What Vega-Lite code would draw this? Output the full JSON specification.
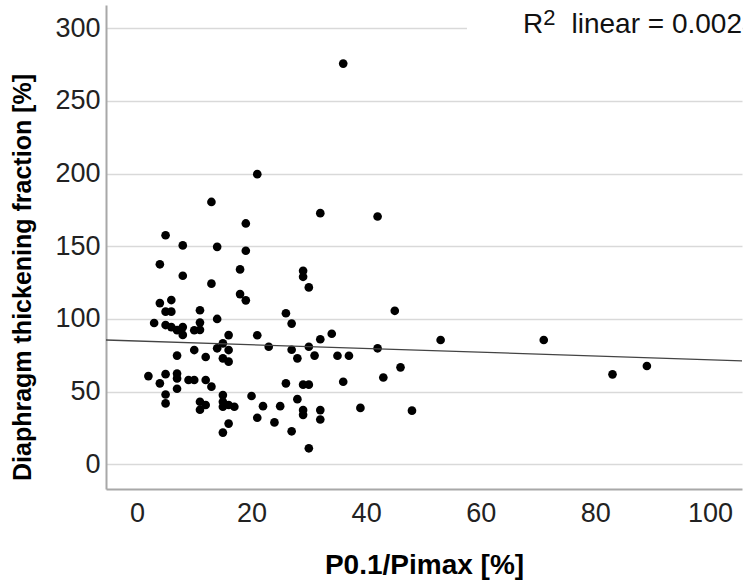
{
  "$schema": "https://vega.github.io/schema/vega-lite/v6.json",
  "width": 636,
  "height": 484,
  "autosize": {"type": "none"},
  "padding": {"left": 106, "top": 5, "right": 8, "bottom": 99},
  "background": "white",
  "config": {"view": {"stroke": null}, "font": "Liberation Sans"},
  "datasets": {
    "points": [
      {"p": 36, "d": 275.7}, {"p": 21, "d": 199.6}, {"p": 13, "d": 180.5}, {"p": 32, "d": 172.8},
      {"p": 42, "d": 170.5}, {"p": 19, "d": 165.7}, {"p": 5, "d": 157.6}, {"p": 8, "d": 150.6},
      {"p": 14, "d": 149.6}, {"p": 19, "d": 146.9}, {"p": 4, "d": 137.6}, {"p": 18, "d": 134.1},
      {"p": 29, "d": 133.1}, {"p": 8, "d": 129.7}, {"p": 29, "d": 129.0}, {"p": 13, "d": 124.3},
      {"p": 30, "d": 121.7}, {"p": 18, "d": 117.1}, {"p": 19, "d": 112.8}, {"p": 6, "d": 113.0},
      {"p": 4, "d": 110.9}, {"p": 45, "d": 105.6}, {"p": 11, "d": 106.0}, {"p": 5, "d": 105.0},
      {"p": 6, "d": 105.0}, {"p": 26, "d": 103.9}, {"p": 14, "d": 100.0}, {"p": 3, "d": 97.2},
      {"p": 11, "d": 97.5}, {"p": 27, "d": 96.8}, {"p": 5, "d": 95.8}, {"p": 6, "d": 94.4},
      {"p": 8, "d": 94.4}, {"p": 7, "d": 92.3}, {"p": 10, "d": 92.2}, {"p": 11, "d": 92.5},
      {"p": 8, "d": 89.0}, {"p": 16, "d": 88.9}, {"p": 21, "d": 88.8}, {"p": 34, "d": 89.8},
      {"p": 32, "d": 86.0}, {"p": 53, "d": 85.5}, {"p": 71, "d": 85.5}, {"p": 15, "d": 83.2},
      {"p": 23, "d": 80.9}, {"p": 30, "d": 80.9}, {"p": 14, "d": 79.8}, {"p": 42, "d": 79.8},
      {"p": 10, "d": 78.6}, {"p": 16, "d": 78.6}, {"p": 27, "d": 78.8}, {"p": 7, "d": 74.8},
      {"p": 12, "d": 73.8}, {"p": 31, "d": 74.8}, {"p": 35, "d": 74.7}, {"p": 37, "d": 74.7},
      {"p": 15, "d": 72.9}, {"p": 28, "d": 72.9}, {"p": 16, "d": 70.6}, {"p": 46, "d": 66.7},
      {"p": 89, "d": 67.6}, {"p": 5, "d": 62.0}, {"p": 7, "d": 62.4}, {"p": 83, "d": 61.9},
      {"p": 2, "d": 60.7}, {"p": 43, "d": 59.7}, {"p": 7, "d": 59.1}, {"p": 9, "d": 58.0},
      {"p": 10, "d": 58.0}, {"p": 12, "d": 58.0}, {"p": 36, "d": 56.8}, {"p": 4, "d": 55.7},
      {"p": 26, "d": 55.7}, {"p": 29, "d": 54.8}, {"p": 30, "d": 54.8}, {"p": 13, "d": 53.4},
      {"p": 7, "d": 52.0}, {"p": 5, "d": 48.0}, {"p": 15, "d": 47.6}, {"p": 20, "d": 47.0},
      {"p": 28, "d": 44.8}, {"p": 11, "d": 43.0}, {"p": 15, "d": 43.0}, {"p": 5, "d": 41.9},
      {"p": 12, "d": 40.8}, {"p": 16, "d": 40.8}, {"p": 15, "d": 39.6}, {"p": 17, "d": 39.6},
      {"p": 22, "d": 40.0}, {"p": 25, "d": 40.0}, {"p": 39, "d": 38.8}, {"p": 11, "d": 37.5},
      {"p": 29, "d": 37.3}, {"p": 32, "d": 37.3}, {"p": 48, "d": 36.9}, {"p": 29, "d": 34.0},
      {"p": 21, "d": 32.0}, {"p": 32, "d": 30.8}, {"p": 24, "d": 28.8}, {"p": 16, "d": 28.0},
      {"p": 27, "d": 22.7}, {"p": 15, "d": 21.8}, {"p": 30, "d": 11.0}
    ],
    "fit": [{"p": -5.4, "d": 85.5}, {"p": 105.6, "d": 71.2}]
  },
  "layer": [
    {
      "data": {"name": "points"},
      "mark": {"type": "circle", "size": 75, "color": "#000000", "opacity": 1},
      "encoding": {
        "x": {
          "field": "p", "type": "quantitative",
          "scale": {"domain": [-5.4, 105.6], "nice": false, "zero": false},
          "axis": {
            "title": "P0.1/Pimax [%]",
            "values": [0, 20, 40, 60, 80, 100],
            "grid": false, "ticks": false, "tickSize": 0,
            "domainColor": "#a8a8a8", "domainWidth": 2,
            "labelFontSize": 27, "labelColor": "#222222", "labelPadding": 11, "labelFlush": false,
            "titleFontSize": 28, "titleFontWeight": "bold", "titleColor": "#000000",
            "titleY": 84, "titleBaseline": "alphabetic"
          }
        },
        "y": {
          "field": "d", "type": "quantitative",
          "scale": {"domain": [-17, 316], "nice": false, "zero": false},
          "axis": {
            "title": "Diaphragm thickening fraction [%]",
            "values": [0, 50, 100, 150, 200, 250, 300],
            "grid": true, "gridColor": "#d9d9d9", "gridWidth": 1.5,
            "ticks": false, "tickSize": 0,
            "domainColor": "#a8a8a8", "domainWidth": 2,
            "labelFontSize": 27, "labelColor": "#222222", "labelPadding": 6, "labelFlush": false,
            "titleFontSize": 25, "titleFontWeight": "bold", "titleColor": "#000000",
            "titleX": -76, "titleY": 272, "titleAngle": 270, "titleAlign": "center", "titleBaseline": "alphabetic"
          }
        }
      }
    },
    {
      "data": {"name": "fit"},
      "mark": {"type": "line", "color": "#444444", "strokeWidth": 1.3},
      "encoding": {
        "x": {"field": "p", "type": "quantitative"},
        "y": {"field": "d", "type": "quantitative"}
      }
    },
    {
      "data": {"values": [{}]},
      "mark": {"type": "rect", "color": "white"},
      "encoding": {
        "x": {"datum": 57.6}, "x2": {"datum": 105.6},
        "y": {"datum": 292}, "y2": {"datum": 316}
      }
    },
    {
      "data": {"values": [{}]},
      "mark": {"type": "text", "text": "R", "fontSize": 28, "align": "left", "baseline": "alphabetic", "color": "#111111"},
      "encoding": {"x": {"datum": 67.4}, "y": {"datum": 296.5}}
    },
    {
      "data": {"values": [{}]},
      "mark": {"type": "text", "text": "2", "fontSize": 22, "align": "left", "baseline": "alphabetic", "dy": -8, "color": "#111111"},
      "encoding": {"x": {"datum": 70.9}, "y": {"datum": 296.5}}
    },
    {
      "data": {"values": [{}]},
      "mark": {"type": "text", "text": "linear = 0.002", "fontSize": 28, "align": "right", "baseline": "alphabetic", "color": "#111111"},
      "encoding": {"x": {"datum": 105.6}, "y": {"datum": 296.5}}
    }
  ]
}
